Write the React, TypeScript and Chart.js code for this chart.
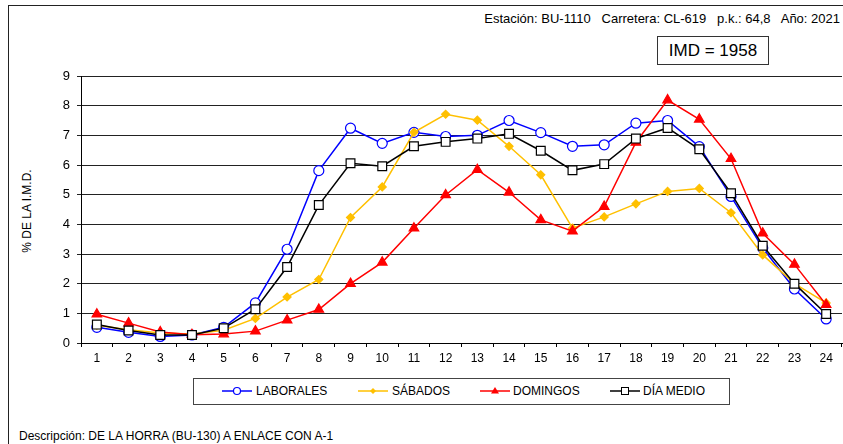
import React, { useEffect, useRef } from "react";
import { Chart, registerables } from "chart.js";

Chart.register(...registerables);

const hours = ["1","2","3","4","5","6","7","8","9","10","11","12","13","14","15","16","17","18","19","20","21","22","23","24"];
const laborales = [0.53,0.36,0.22,0.27,0.53,1.35,3.16,5.81,7.24,6.73,7.1,6.96,7.0,7.5,7.09,6.63,6.68,7.41,7.5,6.62,4.94,3.2,1.82,0.81];
const sabados = [0.6,0.45,0.34,0.3,0.43,0.83,1.55,2.14,4.23,5.26,7.1,7.71,7.51,6.63,5.67,3.87,4.25,4.69,5.11,5.21,4.39,2.97,2.0,1.35];
const domingos = [0.97,0.67,0.37,0.28,0.3,0.4,0.77,1.13,2.0,2.72,3.87,4.99,5.84,5.08,4.15,3.77,4.6,6.76,8.19,7.54,6.21,3.7,2.65,1.29];
const diaMedio = [0.62,0.42,0.27,0.27,0.5,1.14,2.56,4.65,6.06,5.96,6.63,6.78,6.89,7.05,6.48,5.82,6.03,6.89,7.25,6.53,5.05,3.28,2.0,0.98];
const yTicks = [0,1,2,3,4,5,6,7,8,9];

const FONT = "'Liberation Sans', Arial, sans-serif";

const seriesDefs = [
  { label: "LABORALES", data: laborales, color: "#0000FF", style: "circle", radius: 5, fill: "#FFFFFF", order: 4 },
  { label: "SÁBADOS", data: sabados, color: "#FFC000", style: "rectRot", radius: 4, fill: "#FFC000", order: 3 },
  { label: "DOMINGOS", data: domingos, color: "#FF0000", style: "triangle", radius: 5.5, fill: "#FF0000", order: 2 },
  { label: "DÍA MEDIO", data: diaMedio, color: "#000000", style: "rect", radius: 6.2, fill: "#FFFFFF", order: 1 },
];

function LegendMarker({ idx }: { idx: number }) {
  const s = seriesDefs[idx];
  const c = s.color;
  let shape: React.ReactNode = null;
  if (s.style === "circle") shape = <circle cx={15} cy={6} r={3.5} fill="#fff" stroke={c} strokeWidth={1.2} />;
  if (s.style === "rectRot") shape = <polygon points="15,3 18,6 15,9 12,6" fill={c} />;
  if (s.style === "triangle") shape = <polygon points="15,2 19,8.5 11,8.5" fill={c} />;
  if (s.style === "rect") shape = <rect x={11.5} y={2.5} width={7} height={7} fill="#fff" stroke={c} strokeWidth={1} />;
  return (
    <svg width={30} height={12} style={{ display: "block" }}>
      <line x1={0} y1={6} x2={30} y2={6} stroke={c} strokeWidth={1.5} />
      {shape}
    </svg>
  );
}

export default function App() {
  const canvasRef = useRef<HTMLCanvasElement | null>(null);

  useEffect(() => {
    if (!canvasRef.current) return;
    const chart = new Chart(canvasRef.current, {
      type: "line",
      data: {
        labels: hours,
        datasets: seriesDefs.map((s) => ({
          label: s.label,
          data: s.data,
          order: s.order,
          borderColor: s.color,
          backgroundColor: s.fill,
          borderWidth: 1.5,
          pointStyle: s.style as any,
          pointRadius: s.radius,
          pointBackgroundColor: s.fill,
          pointBorderColor: s.color,
          pointBorderWidth: 1.2,
          tension: 0,
          fill: false,
          clip: false as any,
        })),
      },
      options: {
        responsive: false,
        maintainAspectRatio: false,
        animation: false,
        layout: { autoPadding: false, padding: { top: 16, right: 1, left: 0, bottom: 0 } },
        plugins: { legend: { display: false }, tooltip: { enabled: false }, title: { display: false } },
        scales: {
          x: {
            type: "category",
            offset: true,
            grid: { display: true, drawOnChartArea: false, drawTicks: true, tickLength: 4, offset: true, color: "#000" },
            border: { display: true, color: "#000", width: 1 },
            ticks: { color: "#000", font: { family: FONT, size: 12 }, padding: 4, maxRotation: 0, autoSkip: false },
            afterFit: (s: any) => { s.height = 30; s.paddingLeft = 0; s.paddingRight = 0; },
          },
          y: {
            min: 0,
            max: 9,
            afterBuildTicks: (s: any) => { s.ticks = yTicks.map((v) => ({ value: v })); },
            grid: { color: "#222", lineWidth: 1, tickLength: 4, drawTicks: true },
            border: { display: true, color: "#000", width: 1 },
            ticks: { color: "#000", font: { family: FONT, size: 13 }, padding: 7 },
            afterFit: (s: any) => { s.width = 81; },
          },
        },
      },
    });
    return () => chart.destroy();
  }, []);

  return (
    <div style={{ position: "absolute", left: 0, top: 0, width: 843, height: 444, overflow: "hidden", background: "#fff", fontFamily: FONT, color: "#000" }}>
      <div style={{ position: "absolute", left: 8, top: 5, width: 900, height: 500, border: "1px solid #222" }} />
      <div style={{ position: "absolute", right: 3, top: 11, fontSize: 13, lineHeight: "15px", whiteSpace: "pre" }}>
        {"Estación: BU-1110   Carretera: CL-619   p.k.: 64,8   Año: 2021"}
      </div>
      <div style={{ position: "absolute", left: 657, top: 36, width: 110, height: 27, border: "1px solid #333", fontSize: 17, lineHeight: "27px", textAlign: "center" }}>
        IMD = 1958
      </div>
      <div style={{ position: "absolute", left: 27, top: 211, fontSize: 12, lineHeight: "14px", whiteSpace: "pre", transform: "translate(-50%, -50%) rotate(-90deg)" }}>
        % DE LA I.M.D.
      </div>
      <canvas ref={canvasRef} width={843} height={313} style={{ position: "absolute", left: 0, top: 60, width: 843, height: 313 }} />
      <div style={{ position: "absolute", left: 193, top: 378, width: 535, height: 25, border: "1px solid #444" }} />
      {[
        { x: 222, tx: 256, i: 0 },
        { x: 358, tx: 392, i: 1 },
        { x: 480, tx: 513, i: 2 },
        { x: 610, tx: 643, i: 3 },
      ].map((it) => (
        <React.Fragment key={it.i}>
          <div style={{ position: "absolute", left: it.x, top: 385 }}>
            <LegendMarker idx={it.i} />
          </div>
          <div style={{ position: "absolute", left: it.tx, top: 384, fontSize: 12, lineHeight: "14px", whiteSpace: "pre" }}>
            {seriesDefs[it.i].label}
          </div>
        </React.Fragment>
      ))}
      <div style={{ position: "absolute", left: 19, top: 429, fontSize: 12, lineHeight: "14px", whiteSpace: "pre" }}>
        Descripción: DE LA HORRA (BU-130) A ENLACE CON A-1
      </div>
    </div>
  );
}
